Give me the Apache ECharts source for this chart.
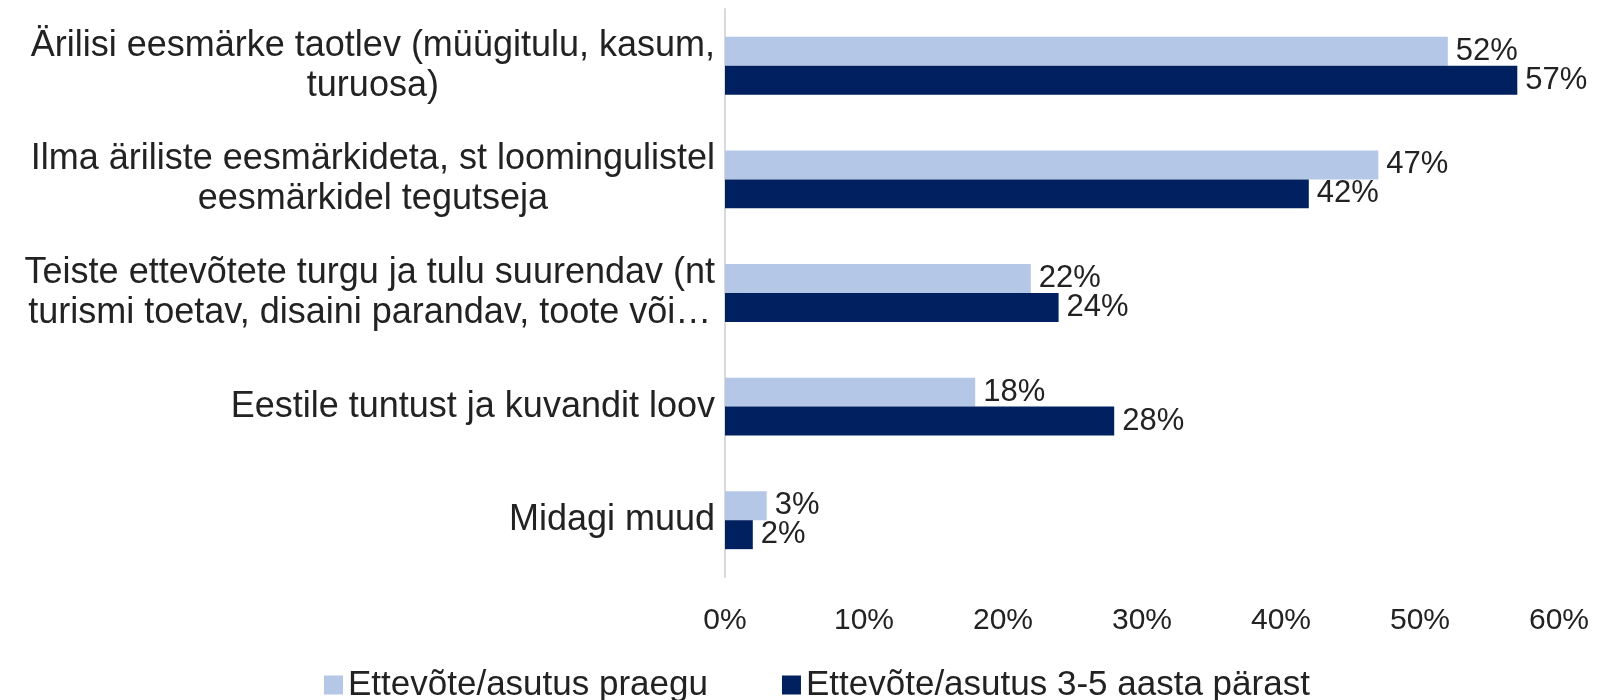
<!DOCTYPE html>
<html>
<head>
    <meta http-equiv="Content-Type" content="text/html; charset=utf-8"/>
    <script src="https://cdn.jsdelivr.net/npm/echarts@6/dist/echarts.min.js"></script>
    <style>
        html, body { margin: 0; padding: 0; background: #fff; }
    </style>
</head>
<body>

<div id="chart" style="width: 1608px; height: 700px;"></div>

<script type="text/javascript">
    // kategooriad (ülevalt alla)
    var categories = [
        'Ärilisi eesmärke taotlev (müügitulu, kasum,\nturuosa)',
        'Ilma äriliste eesmärkideta, st loomingulistel\neesmärkidel tegutseja',
        'Teiste ettevõtete turgu ja tulu suurendav (nt\nturismi toetav, disaini parandav, toote või…',
        'Eestile tuntust ja kuvandit loov',
        'Midagi muud'
    ];
    var seriesNames = ['Ettevõte/asutus praegu', 'Ettevõte/asutus 3-5 aasta pärast'];
    var praegu = [52, 47, 22, 18, 3];
    var tulevikus = [57, 42, 24, 28, 2];
    var xTicks = [0, 10, 20, 30, 40, 50, 60];

    var textColor = '#222';
    var chart = echarts.init(document.getElementById('chart'));

    var option = {
        animation: false,
        color: ['#b4c7e7', '#002060'],
        textStyle: {
            fontFamily: 'Liberation Sans, Arial, sans-serif'
        },
        grid: {
            left: 725,
            right: 49,
            top: 9,
            bottom: 123
        },
        legend: {
            left: 319,
            top: 660,
            itemWidth: 19,
            itemHeight: 19,
            itemGap: 74,
            icon: 'rect',
            textStyle: {
                color: textColor,
                fontSize: 35,
                lineHeight: 40
            },
            data: seriesNames
        },
        xAxis: {
            type: 'value',
            min: xTicks[0],
            max: xTicks[xTicks.length - 1],
            interval: 10,
            axisLine: { show: false },
            axisTick: { show: false },
            splitLine: { show: false },
            axisLabel: {
                color: textColor,
                fontSize: 30,
                margin: 29,
                formatter: '{value}%'
            }
        },
        yAxis: {
            type: 'category',
            inverse: true,
            data: categories,
            axisLine: {
                show: true,
                lineStyle: { color: '#d9d9d9', width: 2 }
            },
            axisTick: { show: false },
            axisLabel: {
                margin: 10,
                align: 'right',
                formatter: function (value) {
                    // iga rida eraldi, et read oleksid keskele joondatud
                    return value.split('\n').map(function (line) {
                        return '{c|' + line + '}';
                    }).join('\n');
                },
                rich: {
                    c: {
                        align: 'center',
                        color: textColor,
                        fontSize: 36,
                        lineHeight: 40,
                        fontFamily: 'Liberation Sans, Arial, sans-serif'
                    }
                }
            }
        },
        series: [{
            name: seriesNames[0],
            type: 'bar',
            data: praegu,
            barGap: '0%',
            barCategoryGap: '49%',
            label: {
                show: true,
                position: 'right',
                distance: 8,
                color: textColor,
                fontSize: 31,
                formatter: '{c}%'
            }
        }, {
            name: seriesNames[1],
            type: 'bar',
            data: tulevikus,
            barGap: '0%',
            barCategoryGap: '49%',
            label: {
                show: true,
                position: 'right',
                distance: 8,
                color: textColor,
                fontSize: 31,
                formatter: '{c}%'
            }
        }]
    };

    chart.setOption(option);
</script>

</body>
</html>
